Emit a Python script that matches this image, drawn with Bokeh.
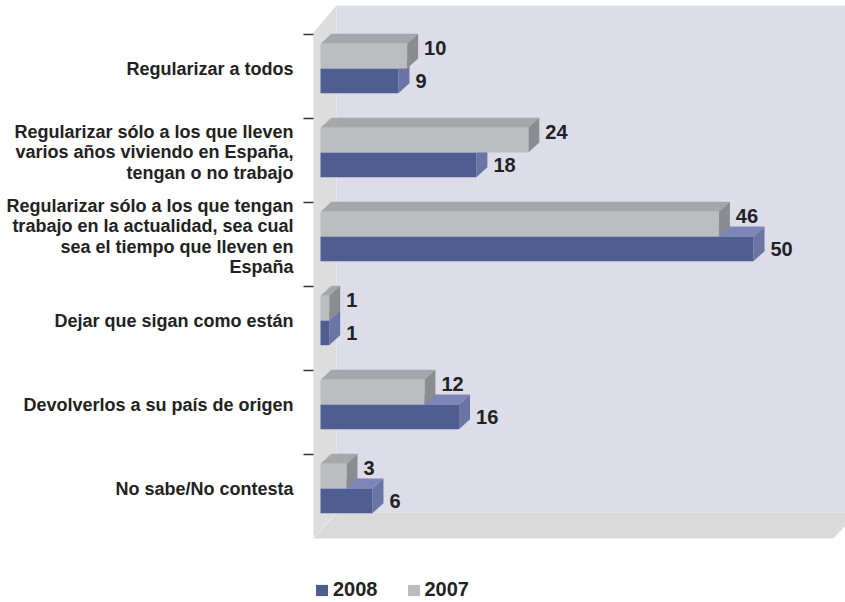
from bokeh.plotting import figure
from bokeh.models import Range1d, Legend, LegendItem
from bokeh.core.properties import value
from bokeh.embed import file_html
from bokeh.resources import INLINE

# ---------------- data ----------------
categories = [
    "Regularizar a todos",
    "Regularizar sólo a los que lleven\nvarios años viviendo en España,\ntengan o no trabajo",
    "Regularizar sólo a los que tengan\ntrabajo en la actualidad, sea cual\nsea el tiempo que lleven en\nEspaña",
    "Dejar que sigan como están",
    "Devolverlos a su país de origen",
    "No sabe/No contesta",
]
values_2007 = [10, 24, 46, 1, 12, 3]
values_2008 = [9, 18, 50, 1, 16, 6]
series_names = ["2008", "2007"]

# ---------------- layout / style ----------------
W, H = 845, 602
SX = 8.66          # px per value unit
SY = 84.0          # px per category
X0_PX, Y0_PX = 320.0, 68.0   # canvas px of value 0 / first category centre

def dx(px):
    return px / SX

def dy(px):
    return px / SY

BAR_H = dy(24.7)
DEPTH_X, DEPTH_Y = dx(11), dy(-10)

GRAY_FRONT, GRAY_TOP, GRAY_SIDE = "#bcbdc0", "#a6a7aa", "#8b8c8f"
BLUE_FRONT, BLUE_TOP, BLUE_SIDE = "#4f5e90", "#7c87b7", "#6a75a6"
WALL_BACK, WALL_SIDE, FLOOR = "#dcdde9", "#dddddd", "#dadada"
TEXT = "#222222"
FONT_NAME = "Liberation Sans"
FONT = value(FONT_NAME)

p = figure(
    width=W, height=H, output_backend="svg", toolbar_location=None,
    x_range=Range1d(-X0_PX / SX, (W - X0_PX) / SX),
    y_range=Range1d((H - Y0_PX) / SY, -Y0_PX / SY),
    x_axis_type=None, y_axis_type=None, min_border=0,
    outline_line_color=None, background_fill_color="white",
)
p.xgrid.visible = False
p.ygrid.visible = False

n = len(categories)
idx = list(range(n))

# ---------------- walls / floor ----------------
wall_front_x = dx(-7)
wall_back_x = dx(16)
wall_top_back = dy(-63)
wall_top_front = dy(-36)
wall_bot_back = (n - 1) + dy(24)
wall_bot_front = wall_bot_back + dy(26)
floor_right_front = dx(513)
floor_right_back = floor_right_front + dx(24)

p.patch([wall_back_x, floor_right_back, floor_right_back, wall_back_x],
        [wall_top_back, wall_top_back, wall_bot_back, wall_bot_back],
        fill_color=WALL_BACK, line_color=None)
p.patch([wall_front_x, wall_back_x, wall_back_x, wall_front_x],
        [wall_top_front, wall_top_back, wall_bot_back, wall_bot_front],
        fill_color=WALL_SIDE, line_color=None)
p.patch([wall_front_x, wall_back_x, floor_right_back, floor_right_front],
        [wall_bot_front, wall_bot_back, wall_bot_back, wall_bot_front],
        fill_color=FLOOR, line_color=None)
p.line([wall_front_x, wall_back_x], [wall_bot_front, wall_bot_back],
       line_color="#ebebef", line_width=1)

# ticks
tick_y = [i - dy(34) for i in idx]
p.segment(x0=[dx(-17)] * n, x1=[wall_front_x] * n, y0=tick_y, y1=tick_y,
          line_color="#333333", line_width=1.5)

# ---------------- 3D bars ----------------
def bar_faces(vals, top_edge_offset):
    fronts_l, fronts_r, fronts_t, fronts_b = [], [], [], []
    tops_x, tops_y, sides_x, sides_y = [], [], [], []
    for i, v in zip(idx, vals):
        t = i + top_edge_offset
        b = t + BAR_H
        fronts_l.append(0); fronts_r.append(v); fronts_t.append(t); fronts_b.append(b)
        tops_x.append([0, DEPTH_X, v + DEPTH_X, v])
        tops_y.append([t, t + DEPTH_Y, t + DEPTH_Y, t])
        sides_x.append([v, v + DEPTH_X, v + DEPTH_X, v])
        sides_y.append([t, t + DEPTH_Y, b + DEPTH_Y, b])
    return fronts_l, fronts_r, fronts_t, fronts_b, tops_x, tops_y, sides_x, sides_y

renderers = {}
for name, vals, off, cf, ct, cs in [
    ("2008", values_2008, 0.0, BLUE_FRONT, BLUE_TOP, BLUE_SIDE),
    ("2007", values_2007, -BAR_H, GRAY_FRONT, GRAY_TOP, GRAY_SIDE),
]:
    fl, fr, ft, fb, tx, ty, sx, sy = bar_faces(vals, off)
    p.patches(tx, ty, fill_color=ct, line_color=None)
    p.patches(sx, sy, fill_color=cs, line_color=None)
    renderers[name] = p.quad(left=fl, right=fr, top=ft, bottom=fb,
                             fill_color=cf, line_color=None)

# ---------------- value labels ----------------
p.text(x=values_2007, y=idx, text=[str(v) for v in values_2007],
       x_offset=17, y_offset=-21, text_font=FONT, text_font_style="bold",
       text_font_size="20px", text_color=TEXT, text_baseline="middle", text_align="left")
p.text(x=values_2008, y=idx, text=[str(v) for v in values_2008],
       x_offset=17, y_offset=12, text_font=FONT, text_font_style="bold",
       text_font_size="20px", text_color=TEXT, text_baseline="middle", text_align="left")

# ---------------- category labels ----------------
p.text(x=[0] * n, y=idx, text=categories, x_offset=-27, y_offset=0,
       text_font=FONT, text_font_style="bold", text_font_size="18px",
       text_color=TEXT, text_baseline="middle", text_align="right",
       text_line_height=1.03)

# ---------------- legend ----------------
legend = Legend(
    items=[LegendItem(label=nm, renderers=[renderers[nm]]) for nm in series_names],
    orientation="horizontal", location=(314, 1),
    glyph_width=15, glyph_height=14, label_standoff=4, spacing=28,
    padding=0, margin=0, border_line_color=None, background_fill_alpha=0,
    label_text_font=FONT_NAME, label_text_font_style="bold", label_text_font_size="20px",
    label_text_color=TEXT, label_height=14,
)
p.add_layout(legend, "center")

open("out.html", "w").write(file_html(p, INLINE))
